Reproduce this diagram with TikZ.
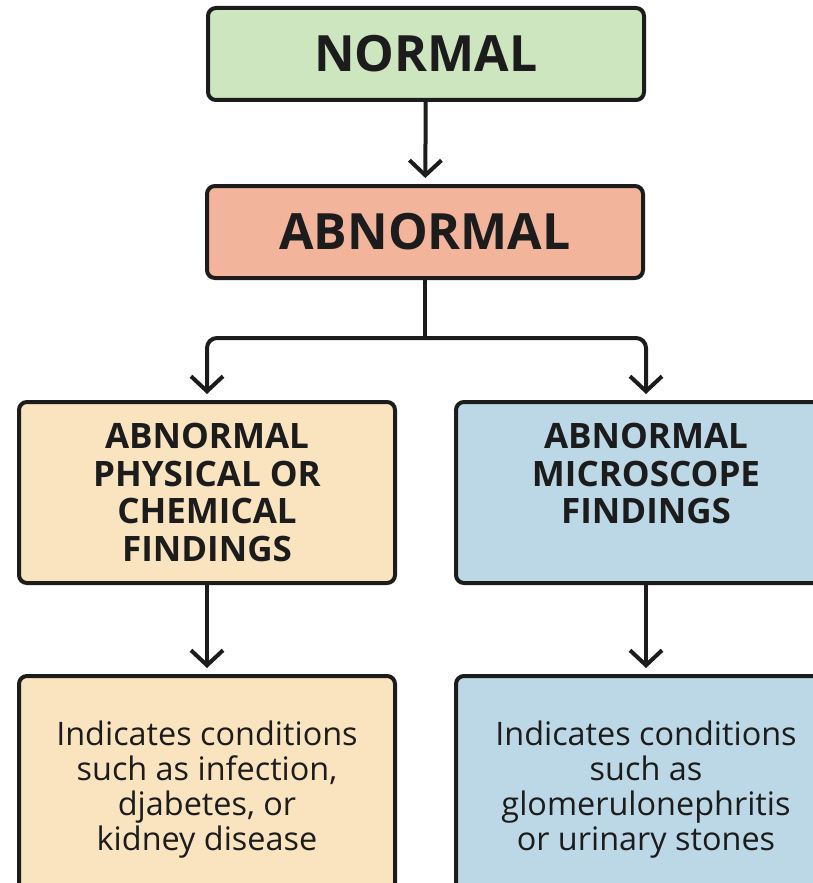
\documentclass[tikz,border=0pt]{standalone}
\usepackage{fontspec}
\setmainfont{Open Sans}
\usetikzlibrary{arrows.meta}

\definecolor{normalgreen}{HTML}{CDE6C0}
\definecolor{abnsalmon}{HTML}{F2B49B}
\definecolor{physcream}{HTML}{FAE4C0}
\definecolor{microblue}{HTML}{BCD8E6}
\definecolor{inkdark}{HTML}{1C1C1C}

\begin{document}
\begin{tikzpicture}[x=0.5pt, y=-0.5pt,
  box/.style={draw=inkdark, line width=2pt, rounded corners=4pt, text=inkdark, align=center, inner sep=0pt},
  headbox/.style={box, minimum width=218pt, minimum height=46pt, font=\fontsize{25}{28}\selectfont\bfseries},
  findbox/.style={box, minimum height=90.5pt, font=\fontsize{17.5}{18.75}\selectfont\bfseries},
  notebox/.style={box, minimum height=114pt, font=\fontsize{16.2}{17.5}\selectfont},
  link/.style={draw=inkdark, line width=2pt, -{Straight Barb[length=7.5pt, width=16pt]}, shorten >=3pt}]

\useasboundingbox (0,0) rectangle (813,883);
\clip (0,0) rectangle (813,883);

\node[headbox, fill=normalgreen] (normal) at (426,54) {NORMAL};
\node[headbox, fill=abnsalmon] (abnormal) at (425,232) {ABNORMAL};

\node[findbox, fill=physcream, minimum width=188pt] (phys) at (207,492.5)
  {ABNORMAL\\PHYSICAL OR\\CHEMICAL\\FINDINGS};
\node[findbox, fill=microblue, minimum width=190pt] (micro) at (646,492.5)
  {ABNORMAL\\MICROSCOPE\\FINDINGS\\\mbox{}};

\node[notebox, fill=physcream, minimum width=188pt] (cond1) at (207,790)
  {Indicates conditions\\such as infection,\\djabetes, or\\kidney disease};
\node[notebox, fill=microblue, minimum width=190pt] (cond2) at (646,790)
  {Indicates conditions\\such as\\glomerulonephritis\\or urinary stones};

\coordinate (split) at (abnormal.south |- 0,338);

\draw[link] (normal) -- (abnormal);
\draw[draw=inkdark, line width=2pt] (abnormal.south) -- (split);
\draw[link, rounded corners=5pt] (split) -| (phys.north);
\draw[link, rounded corners=5pt] (split) -| (micro.north);
\draw[link] (phys) -- (cond1);
\draw[link] (micro) -- (cond2);

\end{tikzpicture}
\end{document}
